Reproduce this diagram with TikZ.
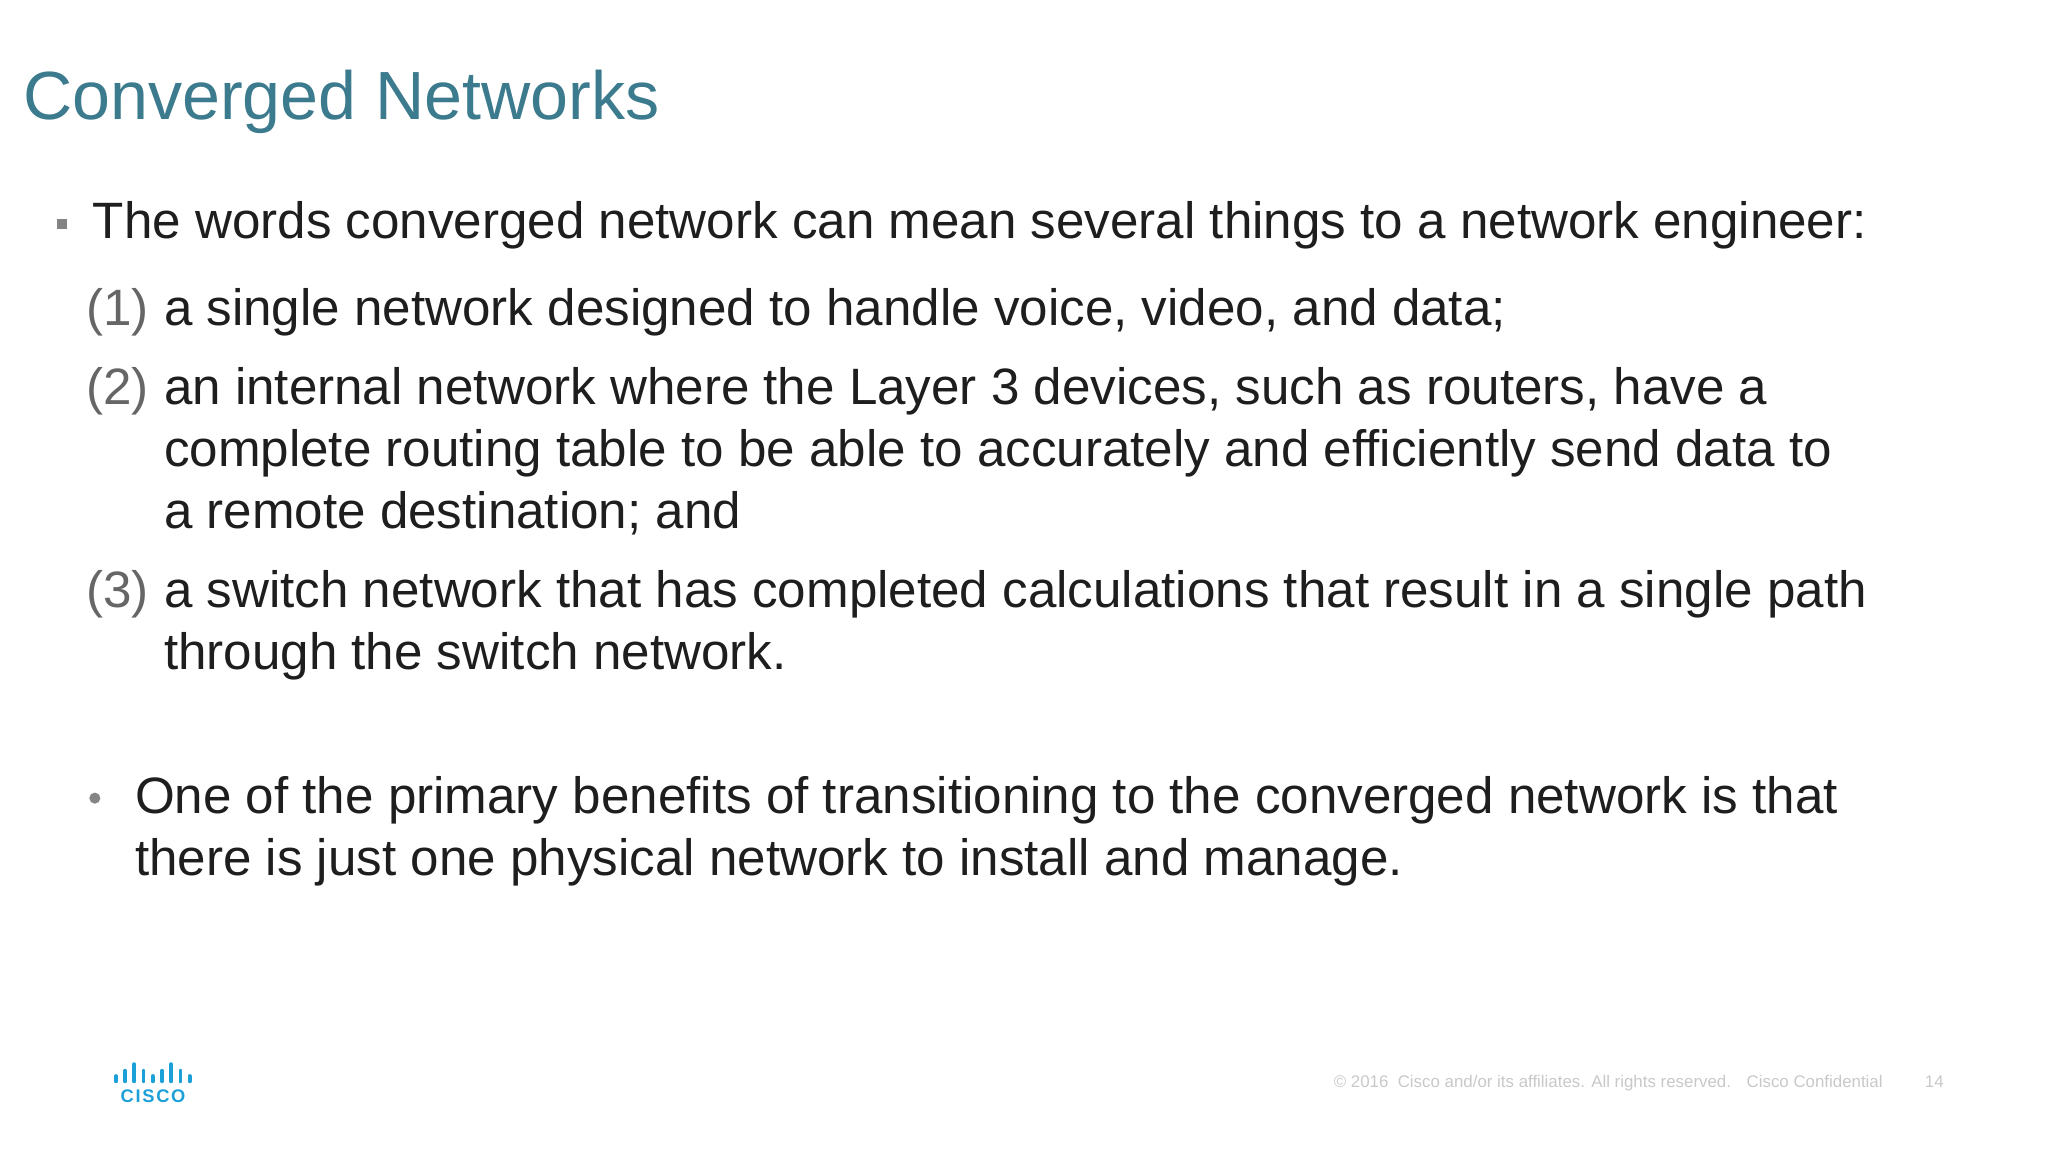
\documentclass[tikz,border=0pt]{standalone}
\usepackage{fontspec}
\setmainfont{Liberation Sans}
\definecolor{ttl}{HTML}{3C7A8E}
\definecolor{body}{HTML}{1E1E1E}
\definecolor{num}{HTML}{666666}
\definecolor{foot}{HTML}{C8C8C8}
\definecolor{cisco}{HTML}{1BA0D7}
\begin{document}
\begin{tikzpicture}[x=0.01317cm,y=-0.01317cm,
  txt/.style={anchor=base west,inner sep=0,font=\fontsize{14.55}{17.6}\selectfont,text=body},
  nm/.style={txt,text=num},
  bar/.style={cisco,line width=1.1pt,line cap=round}]
\useasboundingbox (0,0) rectangle (1555,875);
\node[anchor=base west,inner sep=0,font=\fontsize{19.4}{23}\selectfont,text=ttl] (title) at (17,91) {Converged Networks};
\fill[num!80] (43,166) rectangle (51,174);
\node[txt] (b1) at (70,181) {The words converged network can mean several things to a network engineer:};
\node[nm] (n1) at (65,247) {(1)};
\node[txt] (t1) at (124,247) {a single network designed to handle voice, video, and data;};
\node[nm] (n2) at (65,307) {(2)};
\node[txt] (t2a) at (124,307) {an internal network where the Layer 3 devices, such as routers, have a};
\node[txt] (t2b) at (124,354) {complete routing table to be able to accurately and efficiently send data to};
\node[txt] (t2c) at (124,401) {a remote destination; and};
\node[nm] (n3) at (65,461) {(3)};
\node[txt] (t3a) at (124,461) {a switch network that has completed calculations that result in a single path};
\node[txt] (t3b) at (124,508) {through the switch network.};
\fill[num!80] (72,606) circle (4.2);
\node[txt] (b2a) at (102,618) {One of the primary benefits of transitioning to the converged network is that};
\node[txt] (b2b) at (102,665) {there is just one physical network to install and manage.};
\node[anchor=base east,inner sep=0,font=\fontsize{4.8}{5}\selectfont,text=foot] (ft) at (1430,826) {\textcopyright\ 2016 \ Cisco and/or its affiliates. All rights reserved. \ \ Cisco Confidential};
\node[anchor=base west,inner sep=0,font=\fontsize{4.8}{5}\selectfont,text=foot] (pg) at (1461,826) {14};
\foreach \i/\h in {0/4,1/8,2/13,3/8,4/4,5/8,6/13,7/8,8/4}
  \draw[bar] (88+\i*7,821-\h) -- (88+\i*7,821);
\node[anchor=base west,inner sep=0,font=\fontsize{5.2}{6}\bfseries\selectfont,text=cisco] (logo) at (91,837) {C\kern0.5pt I\kern0.5pt S\kern0.5pt C\kern0.5pt O};
\end{tikzpicture}
\end{document}
